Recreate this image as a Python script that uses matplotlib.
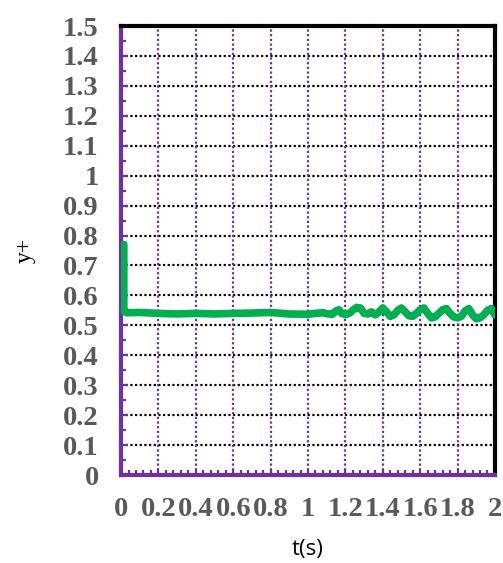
import matplotlib.pyplot as plt
from matplotlib.ticker import MultipleLocator, FixedLocator

# y+ history over time
t = [0.015, 0.015, 0.03, 0.1, 0.2, 0.3, 0.4, 0.5, 0.6, 0.7, 0.8, 0.9, 1.0,
     1.04, 1.08, 1.11, 1.13, 1.15, 1.165, 1.18, 1.20, 1.22, 1.24, 1.26, 1.28,
     1.30, 1.32, 1.34, 1.36, 1.38, 1.40, 1.42, 1.44, 1.46, 1.48, 1.50, 1.52,
     1.54, 1.56, 1.58, 1.60, 1.62, 1.64, 1.66, 1.68, 1.70, 1.72, 1.74, 1.76,
     1.78, 1.80, 1.82, 1.84, 1.86, 1.88, 1.90, 1.92, 1.94, 1.96, 1.98, 2.0]
yplus = [0.77, 0.548, 0.542, 0.543, 0.540, 0.538, 0.540, 0.538, 0.540, 0.541,
         0.543, 0.538, 0.537,
         0.540, 0.542, 0.538, 0.537, 0.548, 0.552, 0.540, 0.536, 0.540, 0.550,
         0.560, 0.558, 0.540, 0.538, 0.545, 0.535, 0.545, 0.558, 0.545, 0.530,
         0.535, 0.550, 0.558, 0.545, 0.532, 0.530, 0.540, 0.552, 0.558, 0.540,
         0.525, 0.528, 0.540, 0.552, 0.556, 0.540, 0.528, 0.525, 0.530, 0.548,
         0.556, 0.535, 0.522, 0.525, 0.535, 0.550, 0.556, 0.535]

xticks = [0, 0.2, 0.4, 0.6, 0.8, 1.0, 1.2, 1.4, 1.6, 1.8, 2.0]
xticklabels = ['0', '0.2', '0.4', '0.6', '0.8', '1', '1.2', '1.4', '1.6', '1.8', '2']
yticks = [0, 0.1, 0.2, 0.3, 0.4, 0.5, 0.6, 0.7, 0.8, 0.9, 1.0, 1.1, 1.2, 1.3, 1.4, 1.5]
yticklabels = ['0', '0.1', '0.2', '0.3', '0.4', '0.5', '0.6', '0.7', '0.8', '0.9',
               '1', '1.1', '1.2', '1.3', '1.4', '1.5']

purple = '#7030A0'
green = '#00B050'
grey = '#595959'

fig = plt.figure(figsize=(5.03, 5.63), dpi=100)
ax = fig.add_axes([0.2406, 0.1563, 0.7434, 0.7975])

ax.set_xlim(0, 2)
ax.set_ylim(0, 1.5)

# grid: black dotted horizontal, purple dotted vertical
for yv in yticks[1:-1]:
    ax.axhline(yv, color='black', lw=1.6, ls=(0, (1, 1.1)), zorder=1)
for xv in xticks[1:-1]:
    ax.axvline(xv, color=purple, lw=1.6, ls=(0, (1, 1.1)), zorder=1)

ax.plot(t, yplus, color=green, lw=5.5, solid_capstyle='round',
        solid_joinstyle='round', zorder=3)

# spines
for s in ['top', 'right']:
    ax.spines[s].set_color('black')
    ax.spines[s].set_linewidth(3)
for s in ['left', 'bottom']:
    ax.spines[s].set_color(purple)
    ax.spines[s].set_linewidth(3)

ax.xaxis.set_major_locator(FixedLocator(xticks))
ax.yaxis.set_major_locator(FixedLocator(yticks))
ax.xaxis.set_minor_locator(MultipleLocator(0.04))
ax.yaxis.set_minor_locator(MultipleLocator(0.05))
ax.set_xticklabels(xticklabels)
ax.set_yticklabels(yticklabels)

ax.tick_params(which='both', direction='in', color=purple, width=1.6)
ax.tick_params(which='major', length=5)
ax.tick_params(which='minor', length=3.5)
ax.tick_params(axis='x', which='major', length=3.5, pad=16)
ax.tick_params(axis='y', which='major', pad=16)
ax.tick_params(top=False, right=False)

for lab in ax.get_xticklabels() + ax.get_yticklabels():
    lab.set_fontfamily('Liberation Serif')
    lab.set_fontweight('bold')
    lab.set_fontsize(20.5)
    lab.set_color(grey)

ax.set_xlabel('t(s)', fontfamily='Open Sans', fontsize=16, color='black', labelpad=12)
ax.set_ylabel('y+', fontfamily='Liberation Serif', fontsize=17, color='black', labelpad=20)

fig.savefig('out.png', dpi=100)
